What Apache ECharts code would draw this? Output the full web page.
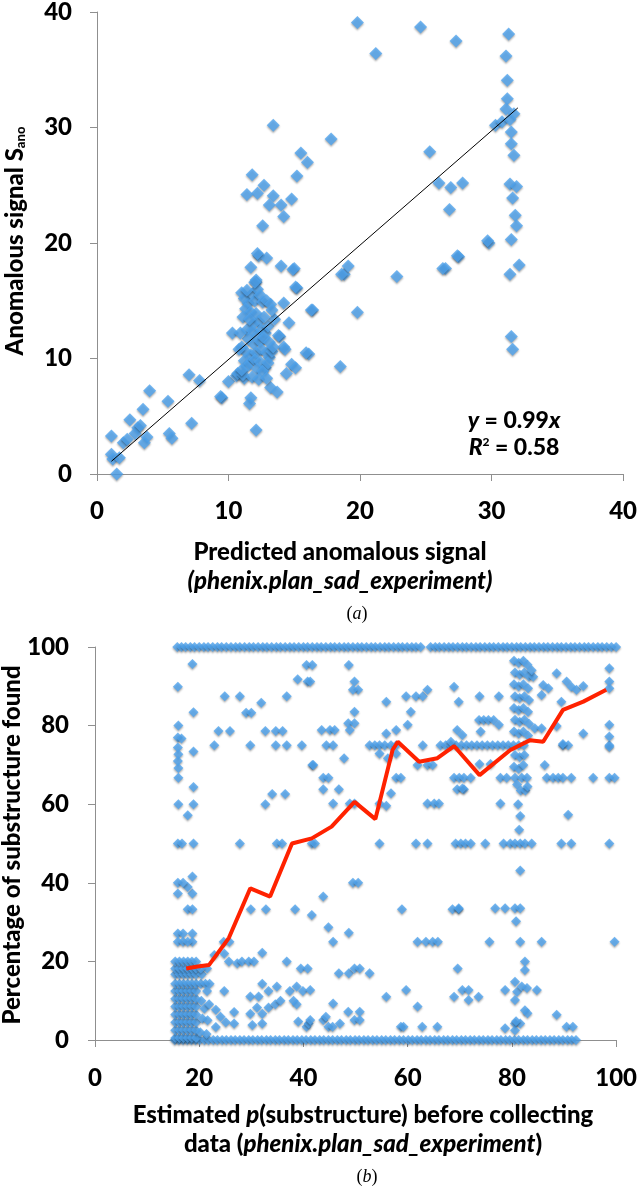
<!DOCTYPE html>
<html><head><meta charset="utf-8">
<script src="https://cdn.jsdelivr.net/npm/echarts@6/dist/echarts.min.js"></script>
<style>html,body{margin:0;padding:0;background:#fff}#c{width:640px;height:1186px}</style>
</head><body><div id="c"></div>
<script>
// ---------- Panel (a) ----------
const aTicks = [0, 10, 20, 30, 40];
const aPoints = [
[1.5,0.0],[1.1,1.7],[1.2,1.3],[1.7,1.4],[1.1,3.3],[2.0,2.7],[2.5,4.7],[3.1,4.0],[2.9,3.5],[3.8,3.2],[3.6,2.7],[2.3,3.0],[3.3,4.2],
[3.5,5.6],[4.0,7.2],[5.4,6.3],[5.5,3.5],[5.7,3.1],[7.2,4.4],[7.0,8.6],[7.8,8.1],[9.5,6.6],[10.3,12.2],[10.0,8.0],[10.6,8.5],[11.2,8.3],
[12.1,3.8],[11.7,6.6],[11.6,6.1],[18.5,9.3],[18.8,17.3],[19.1,18.0],[19.8,14.0],[22.8,17.1],[26.5,17.8],[27.5,18.8],[29.8,20.0],[31.5,20.3],
[31.4,17.3],[32.1,18.1],[31.5,11.9],[31.6,10.8],[16.1,10.4],[16.4,14.2],[15.2,16.1],[15.0,17.8],[14.0,18.0],[14.6,13.1],[13.9,11.9],
[14.2,11.0],[14.3,10.8],[14.8,9.5],[15.1,9.2],[14.4,8.7],[13.2,7.5],[13.7,7.1],[11.7,17.9],[12.3,18.9],[12.9,18.7],[12.1,16.6],
[15.5,27.8],[16.0,27.0],[11.8,25.9],[15.2,25.8],[12.7,25.0],[12.2,24.3],[11.4,24.2],[13.4,24.1],[13.1,23.3],[14.0,23.3],[14.8,23.8],
[14.2,22.3],[12.6,21.5],[12.2,19.1],[14.9,17.7],[12.1,16.8],[15.1,16.2],[14.2,14.8],[16.3,14.2],[13.8,12.0],[15.9,10.5],[9.4,6.7],
[13.4,30.2],[19.8,39.1],[24.6,38.7],[27.3,37.5],[21.2,36.4],[31.3,38.1],[31.1,36.2],[31.2,34.1],[31.2,32.5],[31.1,31.6],[31.7,31.2],
[30.3,30.2],[30.8,30.5],[31.4,30.7],[31.5,29.6],[31.5,28.6],[31.7,27.6],[17.8,29.0],[25.3,27.9],[26.0,25.2],[26.9,24.8],[27.8,25.2],
[26.8,22.9],[31.4,25.1],[31.9,24.9],[31.6,23.9],[31.8,22.4],[31.9,21.5],[29.7,20.2],[27.4,18.9],[18.6,17.3],[26.3,17.8],
[11.0,15.7],[11.2,15.2],[11.5,14.8],[11.3,14.3],[11.8,15.6],[12.0,15.0],[12.2,16.0],[12.4,15.5],[12.6,14.9],[12.9,15.0],[13.2,14.7],
[11.7,14.0],[12.1,13.9],[12.3,13.2],[11.9,13.0],[11.4,12.5],[11.8,12.4],[12.5,12.5],[12.8,12.2],[13.0,12.8],[11.1,13.6],[11.6,13.4],
[12.2,12.0],[11.5,11.7],[11.9,11.3],[12.4,11.5],[12.7,11.8],[13.1,11.4],[11.0,11.0],[11.3,10.6],[11.7,10.3],[12.1,10.5],[12.5,10.8],
[12.9,10.5],[13.1,10.1],[11.2,9.8],[11.6,9.6],[12.0,9.9],[12.4,9.7],[12.8,9.2],[13.0,9.6],[10.8,10.8],[11.4,9.3],[12.2,9.1],[12.6,8.9],
[10.7,8.7],[11.1,8.6],[11.8,8.4],[12.3,8.2],[12.9,8.3],[13.3,10.6],[13.5,13.4],[13.3,14.2],[12.0,16.6],[11.4,15.9],[10.9,12.2],[11.0,9.0],
[13.4,11.0],[12.7,13.6]
];
const aFit = [[1.1, 1.1], [32.0, 31.7]];

// ---------- Panel (b) ----------
const bTicks = [0, 20, 40, 60, 80, 100];
const bRow100X = [15.8,16.6,17.4,18.3,19.1,20.0,20.9,21.7,22.6,23.5,24.3,25.2,26.1,27.0,27.8,28.7,29.6,30.4,31.3,32.2,33.0,33.9,34.8,35.6,36.5,37.4,38.2,39.1,40.0,40.8,41.7,42.6,43.4,44.3,45.2,46.0,46.9,47.8,48.6,49.5,50.4,51.2,52.1,53.0,53.8,54.7,55.6,56.4,57.3,58.2,59.0,59.9,60.8,61.6,62.5,64.4,65.3,66.1,67.0,67.9,68.7,69.6,70.5,71.3,72.2,73.1,73.9,74.8,75.7,76.5,77.4,78.3,79.1,80.0,80.9,81.7,82.6,83.5,84.3,85.2,86.1,86.9,87.8,88.7,89.5,90.4,91.3,92.1,93.0,93.9,94.7,95.6,96.5,97.3,98.2,99.1,100.0];
const bRow0X = [15.3,16.1,16.9,17.7,18.5,19.3,20.1,21.0,21.8,22.7,23.5,24.4,25.2,26.1,26.9,27.8,28.6,29.5,30.3,31.2,32.0,32.9,33.7,34.6,35.4,36.3,37.1,38.0,38.8,39.7,40.5,41.4,42.2,43.1,43.9,44.8,45.6,46.5,47.3,48.2,49.0,49.9,50.7,51.6,52.4,53.3,54.1,55.0,55.8,56.7,57.5,58.4,59.2,60.1,60.9,61.8,62.6,63.5,64.3,65.2,66.0,66.9,67.7,68.6,69.4,70.3,71.1,72.0,72.8,73.7,74.5,75.4,76.2,77.1,77.9,78.8,79.6,80.5,81.3,82.2,83.0,83.9,84.7,85.6,86.4,87.3,88.1,89.0,89.8,90.7,91.5,92.3];
const bRow75X = [22.9,29.8,34.7,36.8,39.7,44.4,45.7,52.7,53.7,54.6,55.6,56.8,57.8,62.9,66.3,67.3,68.3,69.3,70.3,71.3,72.3,73.3,74.3,75.3,76.3,77.3,78.3,79.3,80.3,81.3,82.3,89.8,90.8,98.7];
const bRow67X = [43.8,44.8,57.8,58.7,68.9,69.9,70.8,72.1,77.8,79.0,80.6,81.9,82.9,86.7,87.9,88.9,89.8,91.4,95.6,98.7,99.7];
const bRow50X = [15.9,16.7,18.9,27.8,34.9,35.9,41.6,42.2,54.6,61.6,63.8,69.2,70.2,71.1,72.1,74.9,78.4,79.7,80.6,81.6,82.5,83.8,89.5,91.4,98.7];
const bLeftBlock = [
[15.4,0.5],[15.4,2.5],[15.4,4.5],[15.4,6.5],[15.4,8.5],[15.4,10.5],[15.4,12.5],[15.4,14.3],[15.4,16.7],[15.4,18.2],[15.4,20.0],
[16.2,0.5],[16.2,2.5],[16.2,4.5],[16.2,6.5],[16.2,8.5],[16.2,10.5],[16.2,12.5],[16.2,14.3],[16.2,16.7],[16.2,18.2],[16.2,20.0],
[17.0,0.5],[17.0,2.5],[17.0,4.5],[17.0,6.5],[17.0,8.5],[17.0,10.5],[17.0,12.5],[17.0,14.3],[17.0,16.7],[17.0,18.2],[17.0,20.0],
[17.8,0.5],[17.8,2.5],[17.8,4.5],[17.8,6.5],[17.8,8.5],[17.8,10.5],[17.8,12.5],[17.8,14.3],[17.8,16.7],[17.8,18.2],[17.8,20.0],
[18.6,0.5],[18.6,2.5],[18.6,4.5],[18.6,6.5],[18.6,8.5],[18.6,10.5],[18.6,12.5],[18.6,14.3],[18.6,16.7],[18.6,18.2],[18.6,20.0],
[19.4,0.5],[19.4,2.5],[19.4,4.5],[19.4,6.5],[19.4,8.5],[19.4,10.5],[19.4,12.5],[19.4,14.3],[19.4,16.7],[19.4,18.2],[19.4,20.0],
[20.3,14.3],[21.2,14.3],[22.0,14.3],[20.5,16.7],[21.5,12.5],[20.4,10.0],[21.0,8.0],[20.6,5.5],[20.2,2.0],[21.4,1.5]
];
const bCol82 = [
[80.4,96.5],[81.3,96.0],[82.2,96.5],[83.0,95.5],[80.6,93.5],[81.5,93.0],[82.4,93.5],[83.3,92.5],[80.4,90.5],[81.3,90.0],[82.2,90.5],[83.1,89.5],
[80.6,87.5],[81.5,87.0],[82.4,87.5],[83.3,86.5],[80.4,84.5],[81.3,84.0],[82.2,84.5],[83.1,83.5],[80.6,81.5],[81.5,81.0],[82.4,81.5],[83.3,80.5],
[80.4,78.5],[81.3,78.0],[82.2,78.5],[83.1,77.5],[80.6,72.5],[81.5,72.0],[82.4,72.5],[80.4,69.5],[81.3,69.0],[82.2,70.0],[81.0,65.0],[81.7,63.5],
[82.6,63.5],[83.0,64.5],[81.2,60.0],[81.6,57.0],[81.4,53.5],[84.1,92.4],[85.7,87.8],[83.8,94.1]
];
const bScatter = [
[15.9,89.9],[18.7,95.7],[16.0,80.0],[15.9,77.0],[16.6,76.7],[15.9,74.4],[16.0,72.7],[15.9,71.0],[16.0,69.2],[16.0,66.7],[18.9,83.4],[18.9,73.4],
[18.9,64.4],[16.0,60.0],[18.9,60.0],[17.8,57.2],[24.9,87.5],[27.8,87.5],[23.7,78.6],[25.9,78.6],[29.0,83.3],[30.0,83.3],[31.9,85.8],[32.7,78.6],
[34.7,78.6],[36.0,78.6],[36.8,87.5],[38.9,91.8],[40.8,91.2],[40.6,95.4],[41.7,95.4],[41.7,70.0],[32.7,60.0],[34.0,62.6],[36.5,62.6],
[15.9,40.0],[18.7,41.6],[15.9,37.3],[18.7,37.3],[17.8,38.9],[16.9,40.0],[17.8,33.3],[18.7,33.3],[29.9,33.3],[32.8,33.3],[38.4,33.3],[41.6,31.8],
[15.9,27.1],[16.9,27.1],[18.7,27.1],[15.9,25.0],[16.9,25.0],[18.7,25.0],[17.8,25.0],[24.7,25.0],[25.8,25.0],
[22.9,21.6],[24.8,22.0],[25.7,20.0],[27.3,19.5],[28.2,20.0],[29.5,20.0],[30.5,20.0],[32.1,22.2],[36.8,20.0],[39.5,18.2],[40.8,18.2],[21.5,18.2],[20.3,18.2],
[24.8,12.5],[29.8,11.1],[31.4,11.1],[32.1,14.3],[33.3,12.5],[34.9,13.6],[37.4,12.5],[38.7,13.6],[39.9,12.5],[38.1,10.0],[38.7,9.1],
[21.9,9.1],[23.2,7.7],[24.1,5.9],[26.7,7.1],[29.8,6.7],[31.1,8.3],[32.1,6.7],[33.3,8.3],[34.6,9.1],[35.6,10.0],[30.2,3.8],[32.1,4.2],
[25.1,4.5],[26.7,4.2],[21.6,5.0],[23.2,3.3],[39.0,4.7],[40.6,3.4],[41.0,4.2],
[41.3,91.2],[48.7,95.4],[49.8,91.2],[50.5,89.1],[49.5,89.1],[55.9,86.1],[59.7,87.5],[61.6,87.5],[62.9,87.5],[63.8,89.1],[49.8,83.5],[48.6,80.6],
[49.8,80.6],[48.9,78.9],[43.5,78.9],[45.1,78.9],[46.0,78.9],[60.6,83.5],[60.0,80.2],[57.8,78.9],[55.9,78.0],[41.9,70.0],[47.8,71.7],[54.6,72.9],
[56.2,71.7],[57.8,72.9],[43.8,63.8],[46.8,63.8],[45.7,60.2],[48.9,60.2],[49.8,60.2],[54.6,60.2],[55.9,59.6],[56.8,62.8],[63.8,70.0],[64.8,70.0],
[63.8,60.2],[65.1,60.2],[66.0,60.2],[69.5,63.8],[70.8,63.8],[68.3,75.9],[69.5,78.9],[70.5,77.6],[68.9,89.9],[69.8,86.1],[61.9,70.0],
[49.5,40.0],[50.5,40.0],[43.8,36.5],[44.8,28.7],[45.7,25.0],[48.7,27.3],[58.9,33.3],[61.9,25.0],[63.5,25.0],[64.8,25.0],[65.8,25.0],[68.6,33.3],[69.8,33.3],
[46.8,17.0],[48.7,17.0],[49.8,18.2],[50.8,18.2],[52.7,17.0],[41.3,12.7],[45.7,9.3],[55.9,11.0],[59.7,12.7],[61.9,8.5],[68.9,11.0],[69.6,18.2],
[48.6,7.2],[50.8,7.2],[49.8,5.1],[50.8,5.1],[43.8,5.1],[44.8,3.4],[47.0,4.2],[41.3,5.1],[58.7,3.4],[65.7,3.4],[44.3,5.9],[45.6,3.4],[59.2,3.4],[62.8,3.4],
[73.8,87.5],[77.5,87.5],[73.7,81.4],[74.6,81.4],[75.5,81.4],[76.5,81.4],[77.5,80.2],[74.0,78.5],[73.8,70.2],[75.9,70.2],[86.3,70.0],[84.4,79.3],
[85.7,79.3],[88.6,79.9],[89.8,75.3],[93.7,78.0],[86.0,90.3],[87.0,89.5],[88.6,93.3],[89.5,86.1],[90.5,91.2],[91.4,89.9],[92.4,89.1],[93.7,90.1],
[98.7,94.6],[98.7,91.2],[98.7,89.5],[98.7,80.2],[98.7,77.2],[98.7,74.6],[70.5,64.0],[77.8,60.2],[90.8,57.3],[81.6,43.1],[69.8,33.5],[76.8,33.5],
[78.7,33.5],[80.6,33.5],[81.6,33.5],[80.8,30.2],[75.7,25.0],[81.6,25.0],[85.7,25.0],[99.7,25.0],[82.5,20.0],[82.5,17.8],[70.5,12.7],[71.7,12.7],
[71.7,10.2],[73.6,11.0],[78.7,12.7],[80.6,14.8],[81.0,12.3],[81.9,13.6],[82.9,13.2],[84.8,12.7],[80.6,10.2],[82.5,7.6],[88.6,6.4],[80.6,4.2],
[81.6,4.2],[78.7,3.0],[90.5,3.4],[91.7,3.4],[83.0,6.8],[80.6,2.5],[80.8,4.8]
];
const bMean = [[17.5,18.2],[19.7,18.7],[21.9,19.1],[25.7,26.0],[29.8,38.6],[33.6,36.5],[37.8,50.0],[41.6,51.3],[45.4,54.3],[49.8,60.6],[53.8,56.2],[57.1,73.8],[58.1,75.9],[62.2,70.8],[65.7,71.7],[68.9,74.8],[73.8,67.4],[79.7,73.8],[83.5,76.3],[86.0,75.9],[89.8,84.0],[93.7,86.1],[98.1,89.1]];

const bPoints = [].concat(
  bRow100X.map(x => [x, 100]),
  bRow0X.map(x => [x, 0]),
  bRow75X.map(x => [x, 75]),
  bRow67X.map(x => [x, 66.7]),
  bRow50X.map(x => [x, 50]),
  bLeftBlock, bCol82, bScatter
);

const FONT = 'Lato';
const W = 900;
function axisStyle(margin) {
  return {
    axisLine: { show: true, lineStyle: { color: '#8f8f8f', width: 1 } },
    axisTick: { show: true, length: 7, lineStyle: { color: '#8f8f8f' } },
    splitLine: { show: false },
    axisLabel: { color: '#000', fontFamily: FONT, fontWeight: W, fontSize: 24, margin: margin }
  };
}
const diamondStyle = {
  color: '#4fa4ef',
  shadowBlur: 2, shadowColor: 'rgba(0,0,0,0.4)', shadowOffsetY: 1.5
};
const bold = (s) => W + ' ' + s + 'px ' + FONT;
const ital = (s) => ({ fontFamily: FONT, fontWeight: W, fontStyle: 'italic', fontSize: s });

const chart = echarts.init(document.getElementById('c'), null, { renderer: 'canvas' });
chart.setOption({
  animation: false,
  backgroundColor: '#fff',
  grid: [
    { left: 97, top: 7, width: 530, height: 467 },
    { left: 95, top: 647, width: 525, height: 393 }
  ],
  xAxis: [
    Object.assign(axisStyle(25), { gridIndex: 0, type: 'value', min: aTicks[0], max: aTicks[aTicks.length - 1], interval: 10 }),
    Object.assign(axisStyle(26), { gridIndex: 1, type: 'value', min: bTicks[0], max: bTicks[bTicks.length - 1], interval: 20 })
  ],
  yAxis: [
    Object.assign(axisStyle(25), { gridIndex: 0, type: 'value', min: aTicks[0], max: aTicks[aTicks.length - 1], interval: 10 }),
    Object.assign(axisStyle(26), { gridIndex: 1, type: 'value', min: bTicks[0], max: bTicks[bTicks.length - 1], interval: 20 })
  ],
  series: [
    { type: 'scatter', xAxisIndex: 0, yAxisIndex: 0, symbol: 'diamond', symbolSize: 13, data: aPoints, itemStyle: diamondStyle, z: 2 },
    { type: 'line', xAxisIndex: 0, yAxisIndex: 0, data: aFit, symbol: 'none', lineStyle: { color: '#000', width: 1 }, z: 3 },
    { type: 'scatter', xAxisIndex: 1, yAxisIndex: 1, symbol: 'diamond', symbolSize: 10, data: bPoints, itemStyle: diamondStyle, z: 2 },
    { type: 'line', xAxisIndex: 1, yAxisIndex: 1, data: bMean, symbol: 'none', lineStyle: { color: '#ff2200', width: 4 }, z: 3 }
  ],
  graphic: [
    { type: 'text', x: 13, y: 241, rotation: Math.PI / 2, style: {
      text: '{m|Anomalous signal S}{s|ano}', textAlign: 'center', textVerticalAlign: 'middle',
      rich: { m: { fontFamily: FONT, fontWeight: W, fontSize: 24, lineHeight: 28, verticalAlign: 'bottom' },
              s: { fontFamily: FONT, fontWeight: W, fontSize: 13, lineHeight: 28, verticalAlign: 'bottom' } } } },
    { type: 'text', x: 340, y: 552, style: { text: 'Predicted anomalous signal', font: bold(24), fill: '#000', textAlign: 'center', textVerticalAlign: 'middle' } },
    { type: 'text', x: 340, y: 581, style: { text: '(phenix.plan_sad_experiment)', font: 'italic ' + bold(24), fill: '#000', textAlign: 'center', textVerticalAlign: 'middle' } },
    { type: 'text', x: 357, y: 614, style: { text: '({i|a})', font: '18px "Liberation Serif"', fill: '#000', textAlign: 'center', textVerticalAlign: 'middle',
      rich: { i: { fontFamily: 'Liberation Serif', fontStyle: 'italic', fontSize: 18 } } } },
    { type: 'text', x: 514, y: 421, style: { text: '{i|y} = 0.99{i|x}', font: bold(23), fill: '#000', textAlign: 'center', textVerticalAlign: 'middle',
      rich: { i: ital(23) } } },
    { type: 'text', x: 514, y: 449, style: { text: '{i|R}{p|2}{n| = 0.58}', textAlign: 'center', textVerticalAlign: 'middle',
      rich: { i: Object.assign(ital(23), { lineHeight: 26, verticalAlign: 'top' }),
              p: { fontFamily: FONT, fontWeight: W, fontSize: 12, lineHeight: 26, verticalAlign: 'top' },
              n: { fontFamily: FONT, fontWeight: W, fontSize: 23, lineHeight: 26, verticalAlign: 'top' } } } },
    { type: 'text', x: 12, y: 845, rotation: Math.PI / 2, style: { text: 'Percentage of substructure found', font: bold(24), fill: '#000', textAlign: 'center', textVerticalAlign: 'middle' } },
    { type: 'text', x: 363, y: 1115, style: { text: 'Estimated {i|p}(substructure) before collecting', font: bold(24), fill: '#000', textAlign: 'center', textVerticalAlign: 'middle',
      rich: { i: ital(24) } } },
    { type: 'text', x: 363, y: 1144, style: { text: 'data ({i|phenix.plan_sad_experiment})', font: bold(24), fill: '#000', textAlign: 'center', textVerticalAlign: 'middle',
      rich: { i: ital(24) } } },
    { type: 'text', x: 367, y: 1177, style: { text: '({i|b})', font: '18px "Liberation Serif"', fill: '#000', textAlign: 'center', textVerticalAlign: 'middle',
      rich: { i: { fontFamily: 'Liberation Serif', fontStyle: 'italic', fontSize: 18 } } } }
  ]
});
</script></body></html>
